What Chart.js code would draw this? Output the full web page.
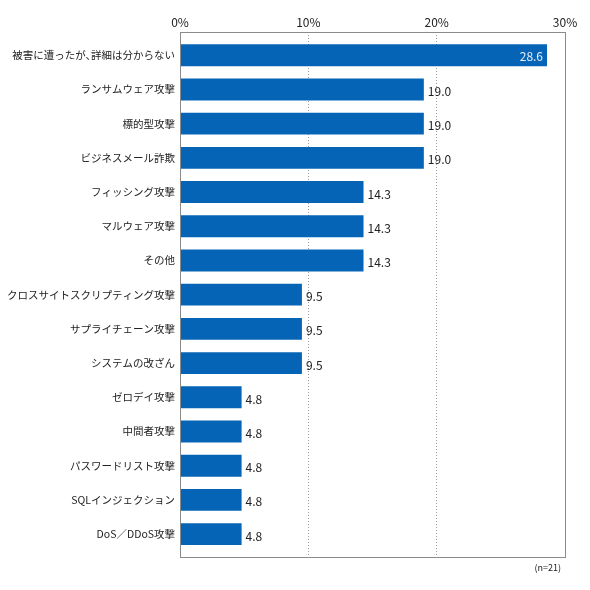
<!DOCTYPE html>
<html>
<head>
<meta charset="utf-8">
<script src="https://cdn.jsdelivr.net/npm/chart.js@4"></script>
<style>
  html, body { margin: 0; padding: 0; background: #fff; }
  #wrap { width: 590px; height: 590px; }
</style>
</head>
<body>
<div id="wrap"><canvas id="chart" width="590" height="590"></canvas></div>
<script>
// attack types, % of respondents (n=21)
const categories = [
  '被害に遭ったが､詳細は分からない',
  'ランサムウェア攻撃',
  '標的型攻撃',
  'ビジネスメール詐欺',
  'フィッシング攻撃',
  'マルウェア攻撃',
  'その他',
  'クロスサイトスクリプティング攻撃',
  'サプライチェーン攻撃',
  'システムの改ざん',
  'ゼロデイ攻撃',
  '中間者攻撃',
  'パスワードリスト攻撃',
  'SQLインジェクション',
  'DoS／DDoS攻撃'
];
const values = [28.6, 19.0, 19.0, 19.0, 14.3, 14.3, 14.3, 9.5, 9.5, 9.5, 4.8, 4.8, 4.8, 4.8, 4.8];
const xTicks = [0, 10, 20, 30];
const sampleNote = '(n=21)';

const FONT = '"Noto Sans CJK JP", "Noto Sans", sans-serif';
const BAR = '#0664b6';

// frame round the plot area
const frame = {
  id: 'frame',
  afterDraw(chart) {
    const { ctx, chartArea: a } = chart;
    ctx.save();
    ctx.strokeStyle = '#8a8a8a';
    ctx.lineWidth = 1;
    ctx.strokeRect(Math.round(a.left) + 0.5, Math.round(a.top) + 0.5,
      Math.round(a.right - a.left), Math.round(a.bottom - a.top));
    ctx.restore();
  }
};

// numbers next to the bars, plus the n note
const valueLabels = {
  id: 'valueLabels',
  afterDatasetsDraw(chart) {
    const { ctx, chartArea: a } = chart;
    const meta = chart.getDatasetMeta(0);
    ctx.save();
    ctx.font = '12px ' + FONT;
    ctx.textBaseline = 'middle';
    meta.data.forEach((bar, i) => {
      const txt = values[i].toFixed(1);
      if (values[i] > 25) {
        ctx.fillStyle = '#e8eef8';
        ctx.textAlign = 'right';
        ctx.fillText(txt, bar.x - 4, bar.y + 1);
      } else {
        ctx.fillStyle = '#222';
        ctx.textAlign = 'left';
        ctx.fillText(txt, bar.x + 4, bar.y + 2);
      }
    });
    ctx.font = '9px ' + FONT;
    ctx.fillStyle = '#222';
    ctx.textAlign = 'right';
    ctx.fillText(sampleNote, a.right - 4, a.bottom + 11);
    ctx.restore();
  }
};

new Chart(document.getElementById('chart'), {
  type: 'bar',
  data: {
    datasets: [{
      data: values.map((v, i) => ({ x: v, y: i })),
      backgroundColor: BAR,
      borderWidth: 0,
      barPercentage: 0.64,
      categoryPercentage: 1
    }]
  },
  options: {
    indexAxis: 'y',
    responsive: false,
    animation: false,
    layout: { padding: { top: 0, right: 25, bottom: 33, left: 0 } },
    plugins: {
      legend: { display: false },
      tooltip: { enabled: false }
    },
    scales: {
      x: {
        type: 'linear',
        position: 'top',
        min: 0,
        max: 30,
        afterFit(scale) { scale.height = 32; },
        afterBuildTicks(scale) { scale.ticks = xTicks.map(v => ({ value: v })); },
        ticks: {
          callback: v => v + '%',
          font: { family: FONT, size: 12 },
          color: '#222',
          padding: 2
        },
        grid: {
          color: '#9a9a9a',
          lineWidth: 1,
          drawTicks: false
        },
        border: { display: false, dash: [1, 2] }
      },
      y: {
        type: 'linear',
        reverse: true,
        offset: false,
        min: -0.68,
        max: 14.67,
        afterFit(scale) { scale.width = 180; },
        afterBuildTicks(scale) { scale.ticks = categories.map((_, i) => ({ value: i })); },
        ticks: {
          autoSkip: false,
          callback: v => categories[v],
          font: { family: FONT, size: 10.5 },
          color: '#222',
          padding: 5
        },
        grid: { display: false, drawTicks: false },
        border: { display: false }
      }
    }
  },
  plugins: [frame, valueLabels]
});
</script>
</body>
</html>
